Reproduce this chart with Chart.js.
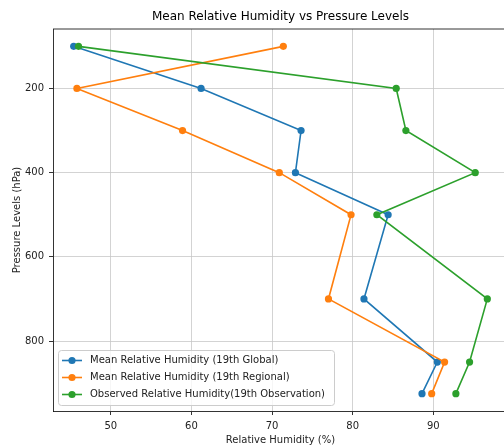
<!DOCTYPE html>
<html>
<head>
<meta charset="utf-8">
<script src="https://cdn.jsdelivr.net/npm/chart.js@4.4.0/dist/chart.umd.min.js"></script>
<style>
    html, body { margin: 0; padding: 0; background: #fff; overflow: hidden; }
    #wrap { width: 520px; height: 447px; }
</style>
</head>
<body>
<div id="wrap"><canvas id="rhChart" width="520" height="447"></canvas></div>
<script>
// Datos
const pressureLevels = [100, 200, 300, 400, 500, 700, 850, 925];
const globalRH = [45.4, 61.2, 73.6, 72.9, 84.4, 81.4, 90.5, 88.6];
const regionalRH = [71.4, 45.8, 58.9, 70.9, 79.8, 77.0, 91.4, 89.8];
const observedRH = [46.0, 85.4, 86.6, 95.2, 83.0, 96.7, 94.5, 92.8];
const xTicks = [50, 60, 70, 80, 90];
const yTicks = [200, 400, 600, 800];
const seriesLabels = [
    'Mean Relative Humidity (19th Global)',
    'Mean Relative Humidity (19th Regional)',
    'Observed Relative Humidity(19th Observation)'
];
const colors = ['#1f77b4', '#ff7f0e', '#2ca02c'];

const FONT = 'DejaVu Sans';
const toPoints = (vals) => vals.map((v, i) => ({ x: v, y: pressureLevels[i] }));

const makeDataset = (label, vals, color, order) => ({
    label,
    data: toPoints(vals),
    showLine: true,
    borderColor: color,
    backgroundColor: color,
    borderWidth: 1.6,
    pointRadius: 3.6,
    pointBorderWidth: 0,
    pointBackgroundColor: color,
    order
});

// Marco superior/derecho, título y leyenda al estilo matplotlib
const framePlugin = {
    id: 'frame',
    afterDraw(chart) {
        const { ctx, chartArea: a } = chart;
        ctx.save();
        ctx.strokeStyle = '#000';
        ctx.lineWidth = 0.8;
        ctx.beginPath();
        ctx.moveTo(a.left, a.top);
        ctx.lineTo(a.right, a.top);
        ctx.lineTo(a.right, a.bottom);
        ctx.stroke();

        // título
        ctx.fillStyle = '#000';
        ctx.font = `12px "${FONT}"`;
        ctx.textAlign = 'center';
        ctx.textBaseline = 'middle';
        ctx.fillText('Mean Relative Humidity vs Pressure Levels', (a.left + a.right) / 2, 17);

        // leyenda
        const lx = 58, ly = 350, lw = 276, lh = 55;
        ctx.fillStyle = 'rgba(255,255,255,0.8)';
        ctx.strokeStyle = '#cccccc';
        ctx.lineWidth = 1;
        ctx.beginPath();
        ctx.roundRect(lx + 0.5, ly + 0.5, lw, lh, 3);
        ctx.fill();
        ctx.stroke();
        ctx.font = `10px "${FONT}"`;
        ctx.textAlign = 'left';
        seriesLabels.forEach((lbl, i) => {
            const y = 360.5 + i * 17;
            ctx.strokeStyle = colors[i];
            ctx.lineWidth = 1.6;
            ctx.beginPath();
            ctx.moveTo(62, y);
            ctx.lineTo(82, y);
            ctx.stroke();
            ctx.fillStyle = colors[i];
            ctx.beginPath();
            ctx.arc(72, y, 3.6, 0, Math.PI * 2);
            ctx.fill();
            ctx.fillStyle = '#222';
            ctx.fillText(lbl, 90, y);
        });
        ctx.restore();
    }
};

new Chart(document.getElementById('rhChart').getContext('2d'), {
    type: 'scatter',
    data: {
        datasets: [
            makeDataset(seriesLabels[0], globalRH, colors[0], 2),
            makeDataset(seriesLabels[1], regionalRH, colors[1], 1),
            makeDataset(seriesLabels[2], observedRH, colors[2], 0)
        ]
    },
    options: {
        responsive: false,
        animation: false,
        layout: { padding: { top: 29, right: 12, left: 0, bottom: 0 } },
        plugins: {
            legend: { display: false },
            title: { display: false },
            tooltip: { enabled: false }
        },
        scales: {
            x: {
                type: 'linear',
                min: 42.835,
                max: 99.265,
                afterBuildTicks: (s) => { s.ticks = xTicks.map(v => ({ value: v })); },
                afterFit: (s) => { s.height = 36; },
                grid: { color: '#c8c8c8', lineWidth: 0.8, tickColor: '#000', tickLength: 4, tickWidth: 0.8 },
                border: { display: true, color: '#000', width: 0.8 },
                ticks: { color: '#222', font: { family: FONT, size: 10 }, padding: 5, maxRotation: 0 },
                title: { display: true, text: 'Relative Humidity (%)', color: '#222',
                         font: { family: FONT, size: 10 }, padding: { top: 0, bottom: 1 } }
            },
            y: {
                type: 'linear',
                reverse: true,
                min: 58.75,
                max: 966.25,
                afterBuildTicks: (s) => { s.ticks = yTicks.map(v => ({ value: v })); },
                afterFit: (s) => { s.width = 53; },
                grid: { color: '#c8c8c8', lineWidth: 0.8, tickColor: '#000', tickLength: 4, tickWidth: 0.8 },
                border: { display: true, color: '#000', width: 0.8 },
                ticks: { color: '#222', font: { family: FONT, size: 10 }, padding: 5 },
                title: { display: true, text: 'Pressure Levels (hPa)', color: '#222',
                         font: { family: FONT, size: 10 }, padding: { top: 11, bottom: 0 } }
            }
        }
    },
    plugins: [framePlugin]
});
</script>
</body>
</html>
